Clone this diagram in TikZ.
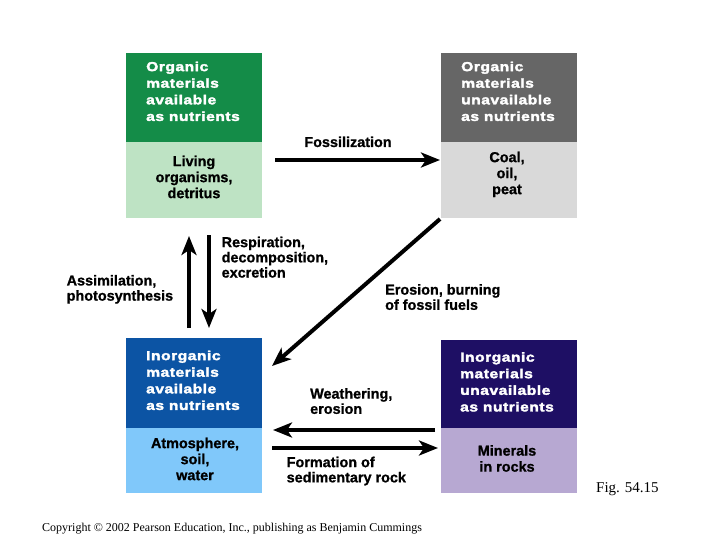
\documentclass[tikz,border=0pt]{standalone}
\usepackage{fontspec}
\setmainfont{Liberation Sans}[BoldFeatures={FakeBold=1.0}]
\newfontfamily\serifface{Liberation Serif}
\newfontfamily\hdrface{Liberation Sans}[LetterSpace=4, FakeStretch=1.2, BoldFeatures={FakeBold=2.5}]
\usetikzlibrary{arrows.meta}
\definecolor{dgreen}{HTML}{148C48}
\definecolor{lgreen}{HTML}{BEE3C4}
\definecolor{dgray}{HTML}{666666}
\definecolor{lgray}{HTML}{D9D9D9}
\definecolor{dblue}{HTML}{0C54A4}
\definecolor{lblue}{HTML}{80C8FA}
\definecolor{navy}{HTML}{1E0F64}
\definecolor{lavender}{HTML}{B7A8D2}
\tikzset{
  panel/.style={rectangle, draw=none, anchor=north west, inner sep=0pt, minimum width=136pt},
  hdrtxt/.style={anchor=north west, inner sep=0pt, align=left, text=white,
    font=\hdrface\bfseries\fontsize{13}{16.6}\selectfont},
  boxtxt/.style={anchor=north, inner sep=0pt, align=center, text=black,
    font=\bfseries\fontsize{14.4}{16}\selectfont},
  lbl/.style={anchor=north west, inner sep=0pt, align=left, text=black,
    font=\bfseries\fontsize{14.4}{15.2}\selectfont},
  arr/.style={line width=4pt, -{Stealth[length=19pt,width=15pt,inset=5pt]}}
}
\begin{document}
\begin{tikzpicture}[x=1pt,y=-1pt]
\useasboundingbox[fill=white] (0,0) rectangle (720,540);

% top-left box
\node[panel, fill=dgreen, minimum height=89pt] (tlH) at (126,53) {};
\node[panel, fill=lgreen, minimum height=76pt] (tlB) at (126,142) {};
\node[hdrtxt] (tlHt) at (146,61.5) {Organic\\materials\\available\\as nutrients};
\node[boxtxt] (tlBt) at (194,155.5) {Living\\organisms,\\detritus};

% top-right box
\node[panel, fill=dgray, minimum height=89pt] (trH) at (441,53) {};
\node[panel, fill=lgray, minimum height=76pt] (trB) at (441,142) {};
\node[hdrtxt] (trHt) at (461,61.5) {Organic\\materials\\unavailable\\as nutrients};
\node[boxtxt] (trBt) at (507,151.5) {Coal,\\oil,\\peat};

% bottom-left box
\node[panel, fill=dblue, minimum height=90pt] (blH) at (126,338) {};
\node[panel, fill=lblue, minimum height=65pt] (blB) at (126,428) {};
\node[hdrtxt] (blHt) at (146,350.5) {Inorganic\\materials\\available\\as nutrients};
\node[boxtxt] (blBt) at (195,437.5) {Atmosphere,\\soil,\\water};

% bottom-right box
\node[panel, fill=navy, minimum height=88pt] (brH) at (441,340) {};
\node[panel, fill=lavender, minimum height=65pt] (brB) at (441,428) {};
\node[hdrtxt] (brHt) at (460,352) {Inorganic\\materials\\unavailable\\as nutrients};
\node[boxtxt] (brBt) at (507,445) {Minerals\\in rocks};

% labels
\node[anchor=base, inner sep=0pt, font=\bfseries\fontsize{14.4}{15.5}\selectfont] (fosL) at (348,147) {Fossilization};
\node[lbl] (resL) at (221.5,236.5) {Respiration,\\decomposition,\\excretion};
\node[lbl] (assL) at (66.5,274.8) {Assimilation,\\photosynthesis};
\node[lbl] (eroL) at (385,284) {Erosion, burning\\of fossil fuels};
\node[lbl] (weaL) at (310,388) {Weathering,\\erosion};
\node[lbl] (forL) at (286.5,456.5) {Formation of\\sedimentary rock};

\node[anchor=base west, inner sep=0pt, font=\serifface\fontsize{15}{18}\selectfont] (fig) at (596,492) {Fig. 54.15};
\node[anchor=base west, inner sep=0pt, font=\serifface\fontsize{12}{14}\selectfont] (copy) at (42,531) {Copyright \textcopyright{} 2002 Pearson Education, Inc., publishing as Benjamin Cummings};

% connector end points
\coordinate (fosA) at (275,160);
\coordinate (fosB) at (440,160);
\coordinate (upA) at (189,328);
\coordinate (upB) at (189,236);
\coordinate (dnA) at (209,235);
\coordinate (dnB) at (209,328);
\coordinate (diA) at (440,219);
\coordinate (diB) at (272,366);
\coordinate (weA) at (435,430);
\coordinate (weB) at (273,430);
\coordinate (foA) at (272,448);
\coordinate (foB) at (438,448);

\draw[arr] (fosA) -- (fosB);
\draw[arr] (upA) -- (upB);
\draw[arr] (dnA) -- (dnB);
\draw[arr] (diA) -- (diB);
\draw[arr] (weA) -- (weB);
\draw[arr] (foA) -- (foB);
\end{tikzpicture}
\end{document}
